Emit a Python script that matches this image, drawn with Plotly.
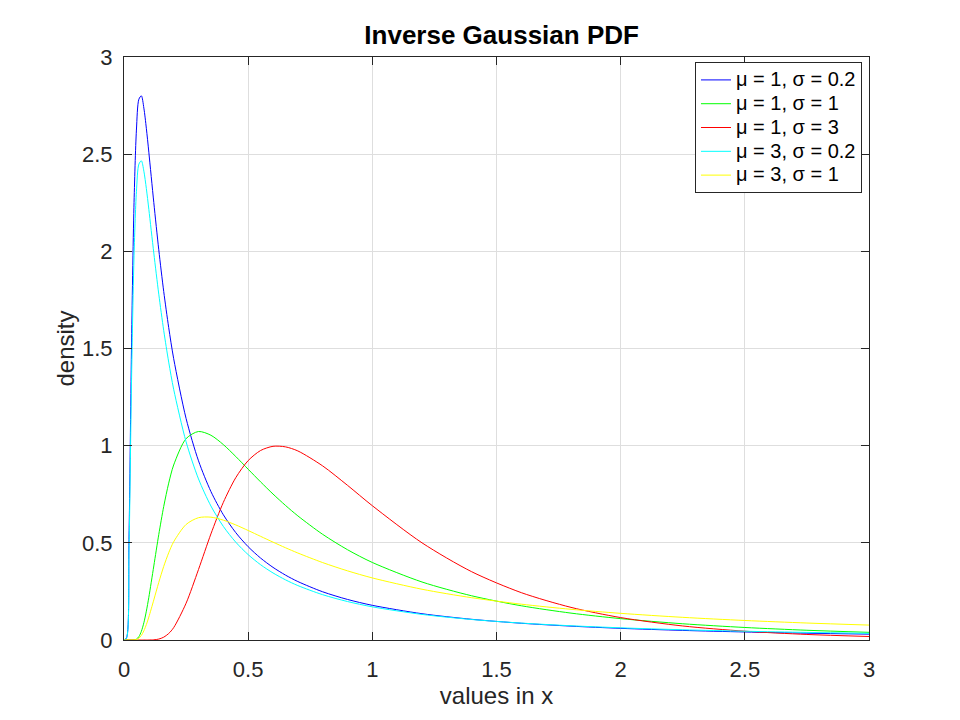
import plotly.graph_objects as go

# sample positions along x
x_vals = [0, 0.01, 0.02, 0.03, 0.04, 0.05, 0.06, 0.07, 0.08, 0.09, 0.10, 0.12, 0.14, 0.16, 0.18,
          0.20, 0.25, 0.30, 0.35, 0.40, 0.45, 0.50, 0.55, 0.60, 0.65, 0.70, 0.80, 0.90, 1.0,
          1.2, 1.4, 1.6, 1.8, 2.0, 2.25, 2.5, 2.75, 3.0]

# density values
mu1_s02 = [0, 0.0099, 0.518, 1.492, 2.227, 2.624, 2.783, 2.800, 2.737, 2.633, 2.510, 2.251, 2.008, 1.793, 1.608,
           1.448, 1.140, 0.922, 0.764, 0.6445, 0.5526, 0.480, 0.4216, 0.3738, 0.3341, 0.3008, 0.2481, 0.2087, 0.1784,
           0.1353, 0.1065, 0.0862, 0.0713, 0.0600, 0.0493, 0.0413, 0.0350, 0.0301]
mu1_s1 = [0, 0, 0, 0.00001, 0.0005, 0.0043, 0.0172, 0.0447, 0.0889, 0.1484, 0.2198, 0.3809, 0.5427, 0.6872, 0.807,
          0.9005, 1.0361, 1.0729, 1.0536, 1.0055, 0.9443, 0.8788, 0.8136, 0.7512, 0.6928, 0.6388, 0.5437, 0.4646, 0.3989,
          0.2985, 0.2275, 0.1761, 0.1383, 0.1099, 0.0835, 0.0644, 0.0501, 0.0394]
mu1_s3 = [0, 0, 0, 0, 0, 0, 0, 0, 0, 0, 0.0001, 0.0010, 0.0048, 0.0145, 0.0334,
          0.0636, 0.1892, 0.3629, 0.5458, 0.7081, 0.8352, 0.9232, 0.9751, 0.9967, 0.9939, 0.9729, 0.8958, 0.7959, 0.6910,
          0.5000, 0.3514, 0.2436, 0.1679, 0.1154, 0.0722, 0.0453, 0.0285, 0.0180]
mu3_s02 = [0, 0.0087, 0.4542, 1.3088, 1.956, 2.3066, 2.449, 2.4657, 2.4125, 2.3231, 2.2162, 1.9912, 1.7796, 1.5921, 1.4300,
           1.2903, 1.0199, 0.8289, 0.6895, 0.5845, 0.5034, 0.4392, 0.3874, 0.3451, 0.3098, 0.2801, 0.2331, 0.1979, 0.1707,
           0.1317, 0.1055, 0.0870, 0.0732, 0.0627, 0.0527, 0.0451, 0.0391, 0.0343]
mu3_s1 = [0, 0, 0, 0, 0.0003, 0.0023, 0.0091, 0.0237, 0.0473, 0.0793, 0.1180, 0.2063, 0.2965, 0.3788, 0.4488,
          0.5053, 0.5945, 0.6294, 0.6320, 0.6167, 0.5922, 0.5635, 0.5334, 0.5036, 0.4749, 0.4477, 0.3984, 0.3559, 0.3194,
          0.2612, 0.2176, 0.1842, 0.1580, 0.1372, 0.1166, 0.1004, 0.0874, 0.0768]

series_names = ["μ = 1, σ = 0.2", "μ = 1, σ = 1", "μ = 1, σ = 3", "μ = 3, σ = 0.2", "μ = 3, σ = 1"]
series_data = [mu1_s02, mu1_s1, mu1_s3, mu3_s02, mu3_s1]
series_colors = ["#0000ff", "#00ff00", "#ff0000", "#00ffff", "#ffff00"]

tick_vals = [0, 0.5, 1, 1.5, 2, 2.5, 3]
tick_text = ["0", "0.5", "1", "1.5", "2", "2.5", "3"]

FONT = "Liberation Sans, Arial, sans-serif"
AXC = "#262626"

fig = go.Figure()
for name, ys, col in zip(series_names, series_data, series_colors):
    fig.add_trace(go.Scatter(
        x=x_vals, y=ys, mode="lines",
        name='<span style="font-size:20px">' + name + '</span>',
        line=dict(color=col, width=1, shape="spline", smoothing=0.8)))

axis_common = dict(
    range=[0, 3], tickvals=tick_vals, ticktext=tick_text,
    showline=True, linecolor=AXC, linewidth=1, mirror="ticks",
    ticks="inside", ticklen=8, tickcolor=AXC, tickwidth=1,
    showgrid=True, gridcolor="rgb(222,222,222)", gridwidth=1,
    zeroline=False, tickfont=dict(family=FONT, size=22, color=AXC),
)

fig.update_layout(
    width=952, height=712,
    paper_bgcolor="white", plot_bgcolor="white",
    margin=dict(l=116, r=91, t=49, b=80),
    title=dict(text="<b>Inverse Gaussian PDF</b>", x=0.5185, xanchor="center",
               y=0.9494, yanchor="bottom",
               font=dict(family=FONT, size=26, color="black")),
    xaxis=dict(**axis_common, ticklabelstandoff=10,
               title=dict(text="values in x", standoff=4,
                          font=dict(family=FONT, size=24, color=AXC))),
    yaxis=dict(**axis_common, ticklabelstandoff=6,
               title=dict(text="density", standoff=0,
                          font=dict(family=FONT, size=24, color=AXC))),
    legend=dict(x=0.9906, y=0.9914, xanchor="right", yanchor="top",
                bgcolor="white", bordercolor=AXC, borderwidth=1,
                font=dict(family=FONT, size=16, color="black"),
                tracegroupgap=0, itemwidth=30),
    showlegend=True,
)

fig.write_html("out.html")
